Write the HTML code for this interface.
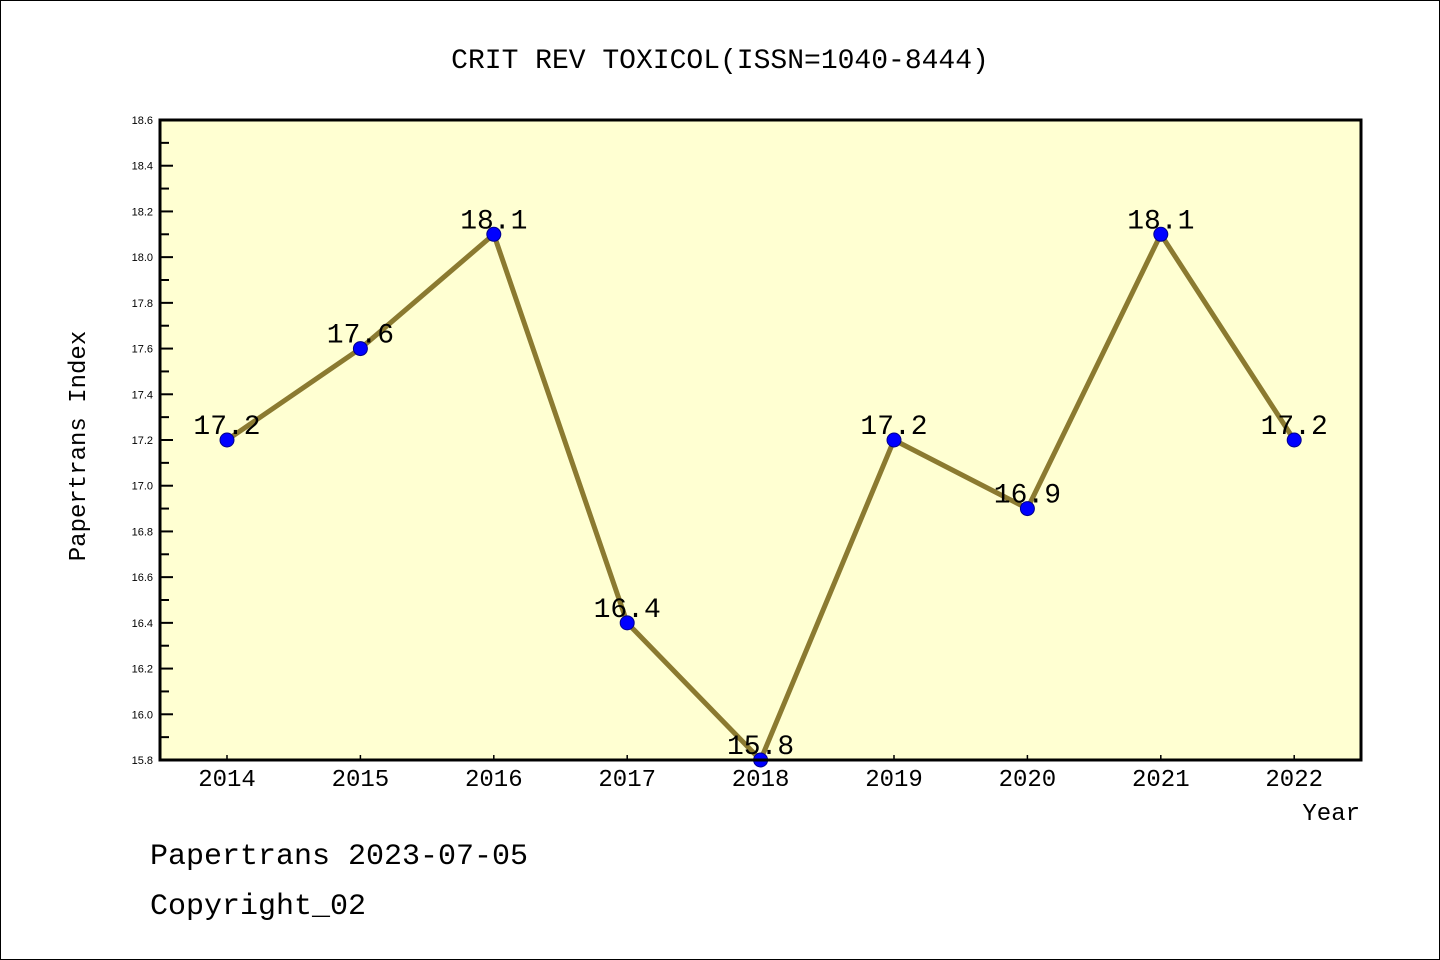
<!DOCTYPE html>
<html><head><meta charset="utf-8"><style>
body{margin:0;background:#fff}
svg{display:block}
text{font-family:"Liberation Mono","Noto Sans CJK SC",monospace;fill:#000}
.ytl{font-family:"Liberation Sans",sans-serif}
</style></head><body>
<svg width="1440" height="960">
<rect x="0.5" y="0.5" width="1439" height="959" fill="#fff" stroke="#000"/>
<text x="720" y="68" font-size="28" text-anchor="middle">CRIT REV TOXICOL(ISSN=1040-8444)</text>
<rect x="160" y="120" width="1201" height="640" fill="#ffffd2"/>
<g id="yticks"></g><g id="xticks"></g>
<g id="series"></g>
<rect x="160" y="120" width="1201" height="640" fill="none" stroke="#000" stroke-width="3"/>
<text x="85" y="446" font-size="24" text-anchor="middle" transform="rotate(-90 85 446)">Papertrans Index</text>
<text x="1360" y="820" font-size="24" text-anchor="end">Year</text>
<text x="150" y="864" font-size="30">Papertrans 2023-07-05</text>
<text x="150" y="914" font-size="30">Copyright_02</text>
</svg>
<script>
const years=["2014","2015","2016","2017","2018","2019","2020","2021","2022"];
const values=[17.2,17.6,18.1,16.4,15.8,17.2,16.9,18.1,17.2];
const yTicks=["15.8","16.0","16.2","16.4","16.6","16.8","17.0","17.2","17.4","17.6","17.8","18.0","18.2","18.4","18.6"];
const ns="http://www.w3.org/2000/svg";
const yMin=15.8,yMax=18.6;
function ys(v){return 760-(v-yMin)/(yMax-yMin)*640;}
function xs(i){return 227+i*133.4;}
function mk(t,a,p){const e=document.createElementNS(ns,t);for(const k in a)e.setAttribute(k,a[k]);p.appendChild(e);return e;}
const yt=document.getElementById('yticks');
yTicks.forEach(s=>{const v=parseFloat(s),y=ys(v);
 const l=mk('line',{x1:160,x2:173,y1:y,y2:y,stroke:'#000','stroke-width':2},yt);
 
 const t=mk('text',{x:153,y:y+4,'font-size':11,'text-anchor':'end','class':'ytl'},yt);t.textContent=s;
 
 if(v<yMax-0.01){const m=ys(v+0.1);const n=mk('line',{x1:160,x2:169,y1:m,y2:m,stroke:'#000','stroke-width':2},yt);
 }
});
const xt=document.getElementById('xticks');
years.forEach((s,i)=>{const x=xs(i);
 const l=mk('line',{x1:x,x2:x,y1:755,y2:760,stroke:'#000','stroke-width':1.5},xt);
 
 const t=mk('text',{x:x,y:786,'font-size':24,'text-anchor':'middle'},xt);t.textContent=s;
 
});
const sg=document.getElementById('series');
const pl=mk('polyline',{points:values.map((v,i)=>xs(i)+','+ys(v)).join(' '),fill:'none',stroke:'#8b7a30','stroke-width':5},sg);

values.forEach((v,i)=>{
 const c=mk('circle',{cx:xs(i),cy:ys(v),r:7,fill:'#0000ff',stroke:'#00008b','stroke-width':1},sg);
 
 const t=mk('text',{x:xs(i),y:ys(v)-6,'font-size':28,'text-anchor':'middle'},sg);t.textContent=v.toFixed(1);
 
});
</script>
</body></html>
